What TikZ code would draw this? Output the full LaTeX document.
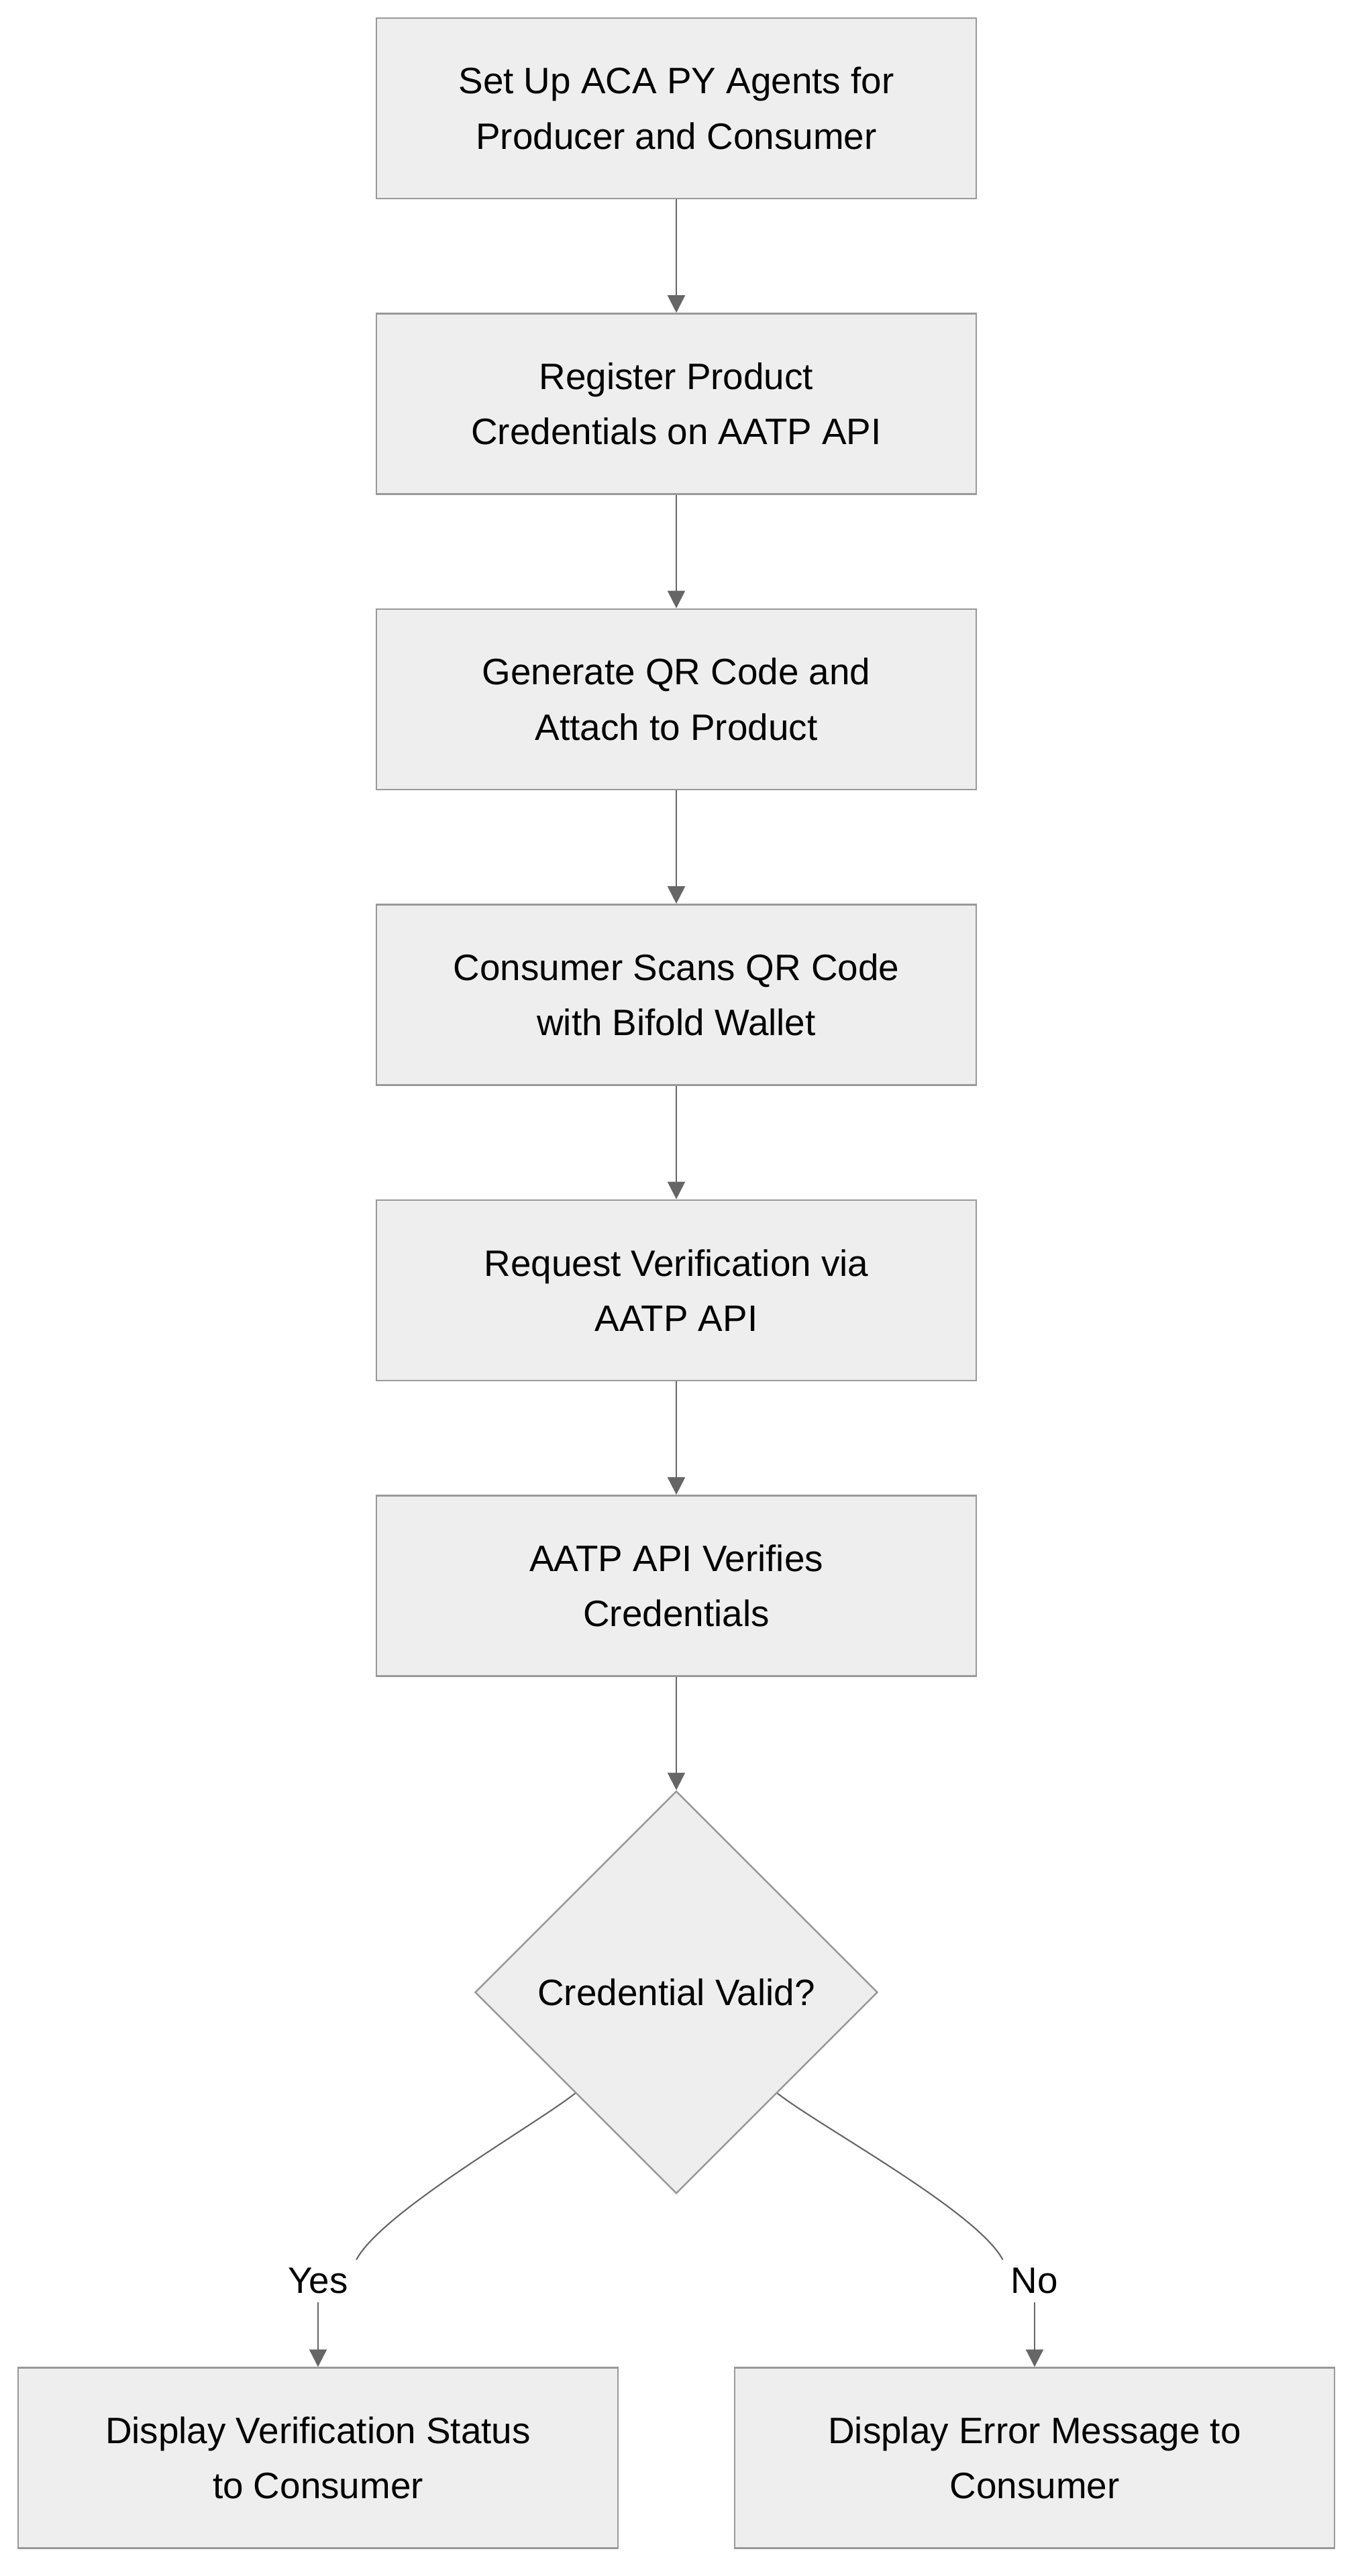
\documentclass[tikz,border=0pt]{standalone}
\usepackage{fontspec}
\setmainfont{Liberation Sans}
\usetikzlibrary{arrows.meta,shapes.geometric,positioning}

\definecolor{boxfill}{HTML}{EEEEEE}
\definecolor{boxline}{HTML}{999999}
\definecolor{flowline}{HTML}{666666}

\begin{document}
\begin{tikzpicture}[>={Triangle[length=0.26cm,width=0.26cm]},
    every node/.style={font=\fontsize{15.6}{23.4}\selectfont, align=center},
    stepbox/.style={draw=boxline, fill=boxfill, line width=0.7pt, minimum width=8.94cm, minimum height=2.69cm, inner sep=0pt},
    decision/.style={diamond, draw=boxline, fill=boxfill, line width=0.7pt, minimum width=6cm, minimum height=6cm, inner sep=0pt},
    flow/.style={->, draw=flowline, fill=flowline, line width=0.6pt},
    branch/.style={draw=flowline, line width=0.6pt}]
    \useasboundingbox (0,0) rectangle (20.26,-38.4);

    % Main steps
    \node[stepbox] (setup) at (10.08,-1.615) {Set Up ACA PY Agents for\\ Producer and Consumer};
    \node[stepbox, below=1.69cm of setup] (register) {Register Product\\ Credentials on AATP API};
    \node[stepbox, below=1.69cm of register] (qrcode) {Generate QR Code and\\ Attach to Product};
    \node[stepbox, below=1.69cm of qrcode] (scan) {Consumer Scans QR Code\\ with Bifold Wallet};
    \node[stepbox, below=1.69cm of scan] (request) {Request Verification via\\ AATP API};
    \node[stepbox, below=1.69cm of request] (verify) {AATP API Verifies\\ Credentials};

    % Decision
    \node[decision, below=1.69cm of verify] (valid) {Credential Valid?};

    % Outcomes
    \node[stepbox] (status) at (4.74,-36.64) {Display Verification Status\\ to Consumer};
    \node[stepbox] (error) at (15.42,-36.64) {Display Error Message to\\ Consumer};
    \node (yes) at (4.74,-34.0) {Yes};
    \node (no) at (15.42,-34.0) {No};

    % Connectors
    \draw[flow] (setup) -- (register);
    \draw[flow] (register) -- (qrcode);
    \draw[flow] (qrcode) -- (scan);
    \draw[flow] (scan) -- (request);
    \draw[flow] (request) -- (verify);
    \draw[flow] (verify) -- (valid);
    \draw[branch] (valid.south west) to[out=218, in=62, looseness=0.5] (yes.north east);
    \draw[branch] (valid.south east) to[out=-38, in=118, looseness=0.5] (no.north west);
    \draw[flow] (yes) -- (status);
    \draw[flow] (no) -- (error);
\end{tikzpicture}
\end{document}
